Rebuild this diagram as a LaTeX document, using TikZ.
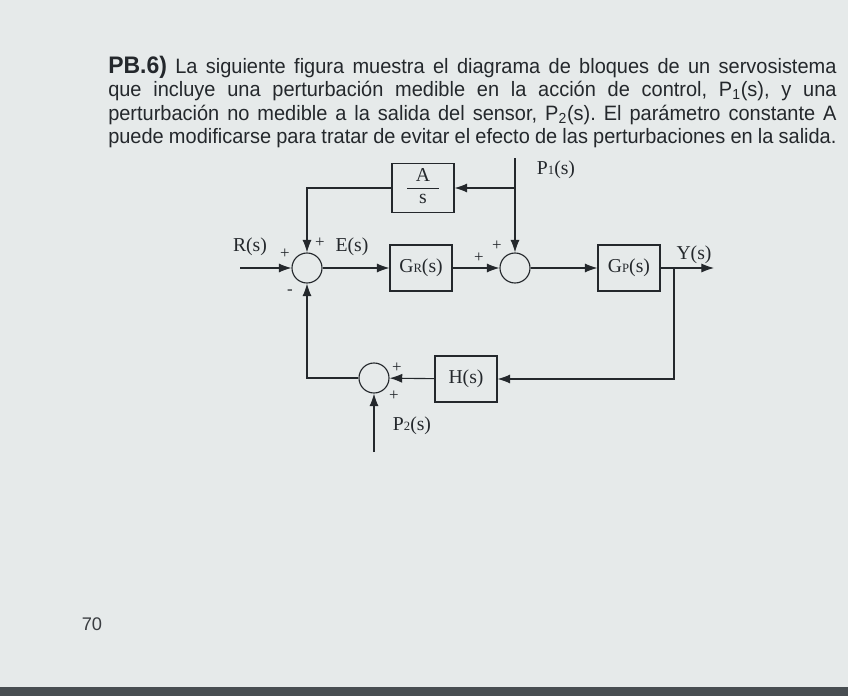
\documentclass[tikz,border=0pt]{standalone}
\usepackage{fontspec}
\setmainfont{Liberation Serif}
\newfontfamily\pagefont{Liberation Sans}
\usetikzlibrary{arrows.meta,positioning,calc}

\definecolor{paper}{RGB}{230,234,234}
\definecolor{ink}{RGB}{36,40,44}
\definecolor{edge}{RGB}{72,78,82}

\frenchspacing
\newcommand{\txtline}[1]{\scalebox{0.96}[1]{\makebox[18.96cm][s]{#1}}}
\newcommand{\smallsub}[1]{{\fontsize{9}{10}\selectfont #1}}

\begin{document}
\begin{tikzpicture}[x=0.025cm, y=-0.025cm,
    block/.style={rectangle, draw=ink, line width=0.8pt, minimum width=1.55cm, minimum height=1.15cm, text=ink, font=\fontsize{14}{16}\selectfont, inner sep=2pt},
    sum/.style={circle, draw=ink, line width=0.8pt, minimum size=0.75cm, inner sep=0pt},
    lbl/.style={text=ink, font=\fontsize{14}{16}\selectfont, inner sep=1pt},
    sgn/.style={text=ink, font=\fontsize{12}{13}\selectfont, inner sep=0pt},
    para/.style={anchor=base west, inner sep=0pt, text=ink, font=\pagefont\fontsize{14.8}{17}\selectfont},
    arrow/.style={draw=ink, line width=0.8pt, -{Latex[length=9pt, width=6.5pt]}}
]
\useasboundingbox (0,0) rectangle (848,696);

% Page
\fill[paper] (0,0) rectangle (848,696);
\fill[edge] (0,687) rectangle (848,696);

% Statement
\node[para] (line1) at (108,73) {\txtline{{\fontsize{17}{19}\selectfont\bfseries PB.6)} La siguiente figura muestra el diagrama de bloques de un servosistema}};
\node[para] (line2) at (108,96) {\txtline{que incluye una perturbación medible en la acción de control, P\textsubscript{1}(s), y una}};
\node[para] (line3) at (108,120) {\txtline{perturbación no medible a la salida del sensor, P\textsubscript{2}(s). El parámetro constante A}};
\node[para] (line4) at (108,143) {\txtline{puede modificarse para tratar de evitar el efecto de las perturbaciones en la salida.}};

% Summing points
\node[sum] (sumE) at (307,268) {};
\node[sum] (sumP) at (515,268) {};
\node[sum] (sumH) at (374,378) {};

% Blocks
\node[block, font=\fontsize{14}{15}\selectfont] (blkA) at (423,188) {\begin{tabular}{@{}c@{}}\makebox[0.8cm]{A}\\\hline s\end{tabular}};
\node[block] (blkGr) at (421,268) {G\smallsub{R}(s)};
\node[block] (blkGp) at (629,268) {G\smallsub{P}(s)};
\node[block] (blkH) at (466,379) {H(s)};

% Free ends
\coordinate (rin) at (240,268);
\coordinate (yout) at (714,268);
\coordinate (ytap) at (674,268);
\coordinate (p1in) at (515,158);
\coordinate (p1tap) at (515,188);
\coordinate (p2in) at (374,452);

% Connections
\draw[arrow] (rin) -- (sumE);
\draw[arrow] (sumE) -- (blkGr);
\draw[arrow] (blkGr) -- (sumP);
\draw[arrow] (sumP) -- (blkGp);
\draw[arrow] (blkGp) -- (yout);
\draw[arrow] (ytap) |- (blkH);
\draw[arrow] (blkH) -- (sumH);
\draw[arrow] (p2in) -- (sumH);
\draw[arrow] (sumH) -| (sumE);
\draw[arrow] (p1in) -- (sumP);
\draw[arrow] (p1tap) -- (blkA);
\draw[arrow] (blkA) -| (sumE);

% Labels
\node[lbl] (lblR) at (250,247) {R(s)};
\node[lbl] (lblE) at (352,247) {E(s)};
\node[lbl] (lblY) at (694,255) {Y(s)};
\node[lbl] (lblP1) at (556,170) {P\smallsub{1}(s)};
\node[lbl] (lblP2) at (412,426) {P\smallsub{2}(s)};

% Signs
\node[sgn] (sgnE1) at (285,254) {+};
\node[sgn] (sgnE2) at (320,243) {+};
\node[sgn] (sgnE3) at (290,292) {-};
\node[sgn] (sgnP1) at (479,258) {+};
\node[sgn] (sgnP2) at (497,246) {+};
\node[sgn] (sgnH1) at (397,368) {+};
\node[sgn] (sgnH2) at (394,396) {+};

% Page number
\node[text=ink!90, font=\pagefont\fontsize{13}{15}\selectfont] (pageno) at (92,624) {70};

\end{tikzpicture}
\end{document}
